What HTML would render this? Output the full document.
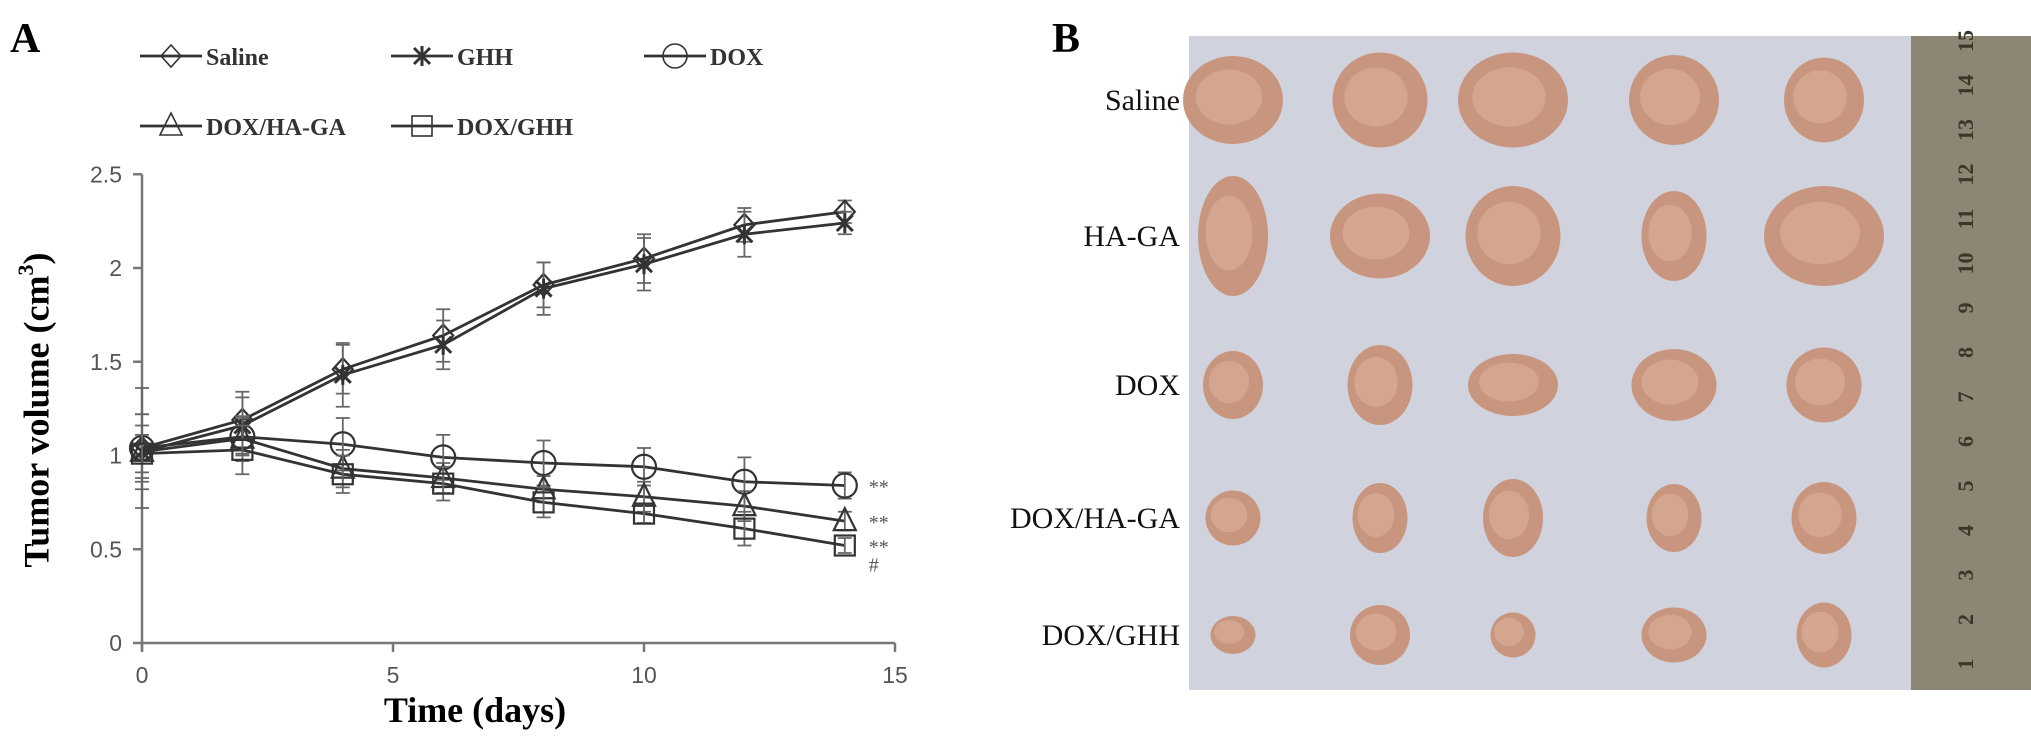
<!DOCTYPE html>
<html><head><meta charset="utf-8"><style>
html,body{margin:0;padding:0;background:#fff;}
svg{display:block;}
</style></head><body>
<svg id="fig" width="2031" height="755" viewBox="0 0 2031 755" xmlns="http://www.w3.org/2000/svg">
<text x="10" y="52" font-family="Liberation Serif, serif" font-weight="bold" font-size="42">A</text>
<g id="legend"></g>
<g id="chart"></g>
<text x="40" y="410" transform="rotate(-90 40 410)" text-anchor="middle" dominant-baseline="middle" font-family="Liberation Serif, serif" font-weight="bold" font-size="36">Tumor volume (cm<tspan font-size="22" dy="-12">3</tspan><tspan dy="12">)</tspan></text>
<text x="475" y="722" text-anchor="middle" font-family="Liberation Serif, serif" font-weight="bold" font-size="36">Time (days)</text>

<text x="1052" y="52" font-family="Liberation Serif, serif" font-weight="bold" font-size="42">B</text>
<g>
<rect x="1189" y="36" width="722" height="654" fill="#d0d3dd"/>
<rect x="1911" y="36" width="120" height="654" fill="#8c8774"/>
<g id="tumors"></g>
<g id="ruler-nums" font-family="Liberation Serif, serif" font-weight="bold" font-size="22" fill="#3a3628"></g>
</g>
<g font-family="Liberation Serif, serif" font-size="30" text-anchor="end" fill="#111">
<text x="1180" y="110">Saline</text>
<text x="1180" y="246">HA-GA</text>
<text x="1180" y="395">DOX</text>
<text x="1180" y="528">DOX/HA-GA</text>
<text x="1180" y="645">DOX/GHH</text>
</g>
</svg>
<script>
const days = [0,2,4,6,8,10,12,14];
const seriesNames = ["Saline","GHH","DOX","DOX/HA-GA","DOX/GHH"];
const salineVals = [1.04,1.19,1.46,1.64,1.91,2.05,2.23,2.30];
const ghhVals = [1.02,1.16,1.43,1.59,1.89,2.02,2.18,2.24];
const doxVals = [1.04,1.10,1.06,0.99,0.96,0.94,0.86,0.84];
const doxHaGaVals = [1.02,1.09,0.93,0.88,0.82,0.78,0.73,0.65];
const doxGhhVals = [1.01,1.03,0.90,0.85,0.75,0.69,0.61,0.52];
const salineErr = [0.32,0.15,0.13,0.14,0.12,0.13,0.09,0.06];
const ghhErr = [0.20,0.15,0.17,0.13,0.14,0.14,0.12,0.06];
const doxErr = [0.18,0.10,0.14,0.12,0.12,0.10,0.13,0.07];
const doxHaGaErr = [0.14,0.12,0.10,0.08,0.07,0.08,0.08,0.05];
const doxGhhErr = [0.10,0.13,0.10,0.09,0.08,0.05,0.09,0.04];
const xTicks = [0,5,10,15];
const yTicks = [0,0.5,1,1.5,2,2.5];
const yTickLabels = ["0","0.5","1","1.5","2","2.5"];
const sigLabels = ["**","**","**\n#"];

const NS="http://www.w3.org/2000/svg";
const X0=142, XS=50.2, Y0=643, YS=187.5;
const xs=d=>X0+d*XS, ys=v=>Y0-v*YS;
const chart=document.getElementById('chart');
function mk(tag,attrs,parent){const e=document.createElementNS(NS,tag);for(const k in attrs)e.setAttribute(k,attrs[k]);parent.appendChild(e);return e;}
const AX="#777";
let a=mk('line',{x1:X0,y1:ys(2.5),x2:X0,y2:Y0+8,stroke:AX,'stroke-width':2.5},chart);


a=mk('line',{x1:X0,y1:Y0,x2:xs(15),y2:Y0,stroke:AX,'stroke-width':2.5},chart);


yTicks.forEach((t,i)=>{
  const l=mk('line',{x1:X0-9,y1:ys(t),x2:X0,y2:ys(t),stroke:AX,'stroke-width':2.5},chart);
  
  
  const tx=mk('text',{x:X0-20,y:ys(t)+8,'text-anchor':'end','font-family':'Liberation Sans, sans-serif','font-size':23,fill:'#555'},chart);
  tx.textContent=yTickLabels[i];
  
  
});
xTicks.forEach(t=>{
  const l=mk('line',{x1:xs(t),y1:Y0,x2:xs(t),y2:Y0+9,stroke:AX,'stroke-width':2.5},chart);
  
  
  const tx=mk('text',{x:xs(t),y:Y0+40,'text-anchor':'middle','font-family':'Liberation Sans, sans-serif','font-size':23,fill:'#555'},chart);
  tx.textContent=String(t);
  
  
});
const LC="#333";
function marker(type,cx,cy,g){
  const s={stroke:LC,'stroke-width':2.2,fill:'none'};
  let e;
  if(type==='diamond') e=mk('polygon',Object.assign({points:`${cx},${cy-11} ${cx+10},${cy} ${cx},${cy+11} ${cx-10},${cy}`},s),g);
  else if(type==='star'){e=mk('path',Object.assign({d:`M${cx-8},${cy-8}L${cx+8},${cy+8}M${cx+8},${cy-8}L${cx-8},${cy+8}M${cx},${cy-10}L${cx},${cy+10}`},s,{'stroke-width':3}),g);}
  else if(type==='circle') e=mk('circle',Object.assign({cx:cx,cy:cy,r:12},s),g);
  else if(type==='triangle') e=mk('polygon',Object.assign({points:`${cx},${cy-13} ${cx+11},${cy+9} ${cx-11},${cy+9}`},s),g);
  else e=mk('rect',Object.assign({x:cx-10,y:cy-10,width:20,height:20},s),g);
  return e;
}
const allVals=[salineVals,ghhVals,doxVals,doxHaGaVals,doxGhhVals];
const allErr=[salineErr,ghhErr,doxErr,doxHaGaErr,doxGhhErr];
const types=['diamond','star','circle','triangle','square'];
allVals.forEach((vals,si)=>{
  const g=mk('g',{},chart);
  
  
  const p=mk('polyline',{points:vals.map((v,i)=>xs(days[i])+','+ys(v)).join(' '),fill:'none',stroke:LC,'stroke-width':2.8},g);
  
  
  vals.forEach((v,i)=>{
    const cx=xs(days[i]),e=allErr[si][i];
    const eb=mk('path',{d:`M${cx},${ys(v+e)}L${cx},${ys(v-e)}M${cx-7},${ys(v+e)}L${cx+7},${ys(v+e)}M${cx-7},${ys(v-e)}L${cx+7},${ys(v-e)}`,stroke:'#666','stroke-width':1.8,fill:'none'},g);
    
    
    const m=marker(types[si],cx,ys(v),g);
    
    
  });
});
[doxVals,doxHaGaVals,doxGhhVals].forEach((vals,k)=>{
  const lines=sigLabels[k].split('\n');
  lines.forEach((s,j)=>{
    const t=mk('text',{x:xs(14)+24,y:ys(vals[7])+8+j*18,'font-family':'Liberation Serif, serif','font-size':20,fill:'#555'},chart);
    t.textContent=s;
    
    
  });
});
const leg=document.getElementById('legend');
const legPos=[[140,56],[391,56],[644,56],[140,126],[391,126]];
seriesNames.forEach((n,i)=>{
  const [lx,ly]=legPos[i];
  const g=mk('g',{},leg);
  
  
  mk('line',{x1:lx,y1:ly,x2:lx+62,y2:ly,stroke:LC,'stroke-width':2.8},g);
  const m=marker(types[i],lx+31,ly,g);
  if(types[i]!=='star'){m.setAttribute('stroke-width','1.6');}
  const t=mk('text',{x:lx+66,y:ly+9,'font-family':'Liberation Serif, serif','font-weight':'bold','font-size':24,fill:'#333'},g);
  t.textContent=n;
});
const tumorCols=[1233,1380,1513,1674,1824];
const tumorRows=[100,236,385,518,635];
const tumorW=[[100,95,110,90,80],[70,100,95,65,120],[60,65,90,85,75],[55,55,60,55,65],[45,60,45,65,55]];
const tumorH=[[88,95,95,90,85],[120,85,100,90,100],[68,80,62,72,75],[55,70,78,68,72],[38,60,45,55,65]];
const tg=document.getElementById('tumors');
tumorRows.forEach((ry,r)=>tumorCols.forEach((cx,c)=>{
  const e=mk('ellipse',{cx:cx,cy:ry,rx:tumorW[r][c]/2,ry:tumorH[r][c]/2,fill:'#c8957f'},tg);
  
  
  mk('ellipse',{cx:cx-4,cy:ry-3,rx:tumorW[r][c]/3,ry:tumorH[r][c]/3.2,fill:'#d4a690'},tg);
}));
const rn=document.getElementById('ruler-nums');
for(let n=1;n<=15;n++){
  const y=664-(n-1)*44.5;
  const t=mk('text',{x:1968,y:y,transform:`rotate(-90 1968 ${y})`,'text-anchor':'middle','dominant-baseline':'middle'},rn);
  t.textContent=String(n);
}
</script>
</body></html>
